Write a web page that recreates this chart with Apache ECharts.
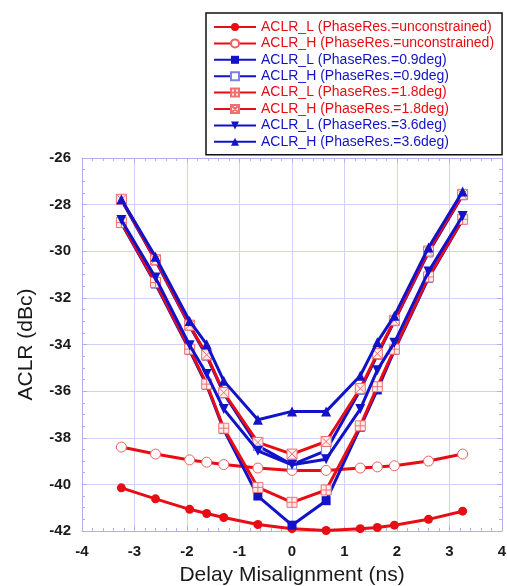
<!DOCTYPE html>
<html><head><meta charset="utf-8">
<script src="https://cdn.jsdelivr.net/npm/echarts@6/dist/echarts.min.js"></script>
<style>html,body{margin:0;padding:0;background:#fff}#c{width:507px;height:586px}</style>
</head><body><div id="c"></div>
<script>
var delays = [-3.25,-2.6,-1.95,-1.625,-1.3,-0.65,0,0.65,1.3,1.625,1.95,2.6,3.25];
var aclrLUnc = [-40.15,-40.62,-41.07,-41.25,-41.42,-41.72,-41.9,-41.98,-41.9,-41.85,-41.75,-41.5,-41.15];
var aclrHUnc = [-38.4,-38.7,-38.95,-39.05,-39.15,-39.3,-39.4,-39.4,-39.3,-39.25,-39.2,-39.0,-38.7];
var aclrL09 = [-28.8,-31.4,-34.25,-35.75,-37.65,-40.5,-41.75,-40.7,-37.55,-35.95,-34.25,-31.15,-28.65];
var aclrH09 = [-27.8,-30.4,-33.2,-34.5,-36.1,-38.35,-39.15,-38.55,-35.95,-34.45,-33.0,-30.05,-27.6];
var aclrL18 = [-28.77,-31.34,-34.2,-35.7,-37.59,-40.13,-40.77,-40.24,-37.49,-35.81,-34.2,-31.1,-28.63];
var aclrH18 = [-27.77,-30.36,-33.17,-34.44,-36.06,-38.2,-38.7,-38.16,-35.89,-34.39,-32.96,-29.99,-27.56];
var aclrL36 = [-28.66,-31.13,-34.03,-35.27,-36.77,-38.56,-39.16,-38.92,-36.77,-35.1,-33.92,-30.87,-28.49];
var aclrH36 = [-27.77,-30.24,-32.99,-33.99,-35.56,-37.23,-36.87,-36.87,-35.34,-33.9,-32.77,-29.84,-27.44];
var seriesNames = [
  'ACLR_L (PhaseRes.=unconstrained)','ACLR_H (PhaseRes.=unconstrained)',
  'ACLR_L (PhaseRes.=0.9deg)','ACLR_H (PhaseRes.=0.9deg)',
  'ACLR_L (PhaseRes.=1.8deg)','ACLR_H (PhaseRes.=1.8deg)',
  'ACLR_L (PhaseRes.=3.6deg)','ACLR_H (PhaseRes.=3.6deg)'];
var xTicks = [-4,-3,-2,-1,0,1,2,3,4];
var yTicks = [-42,-40,-38,-36,-34,-32,-30,-28,-26];

var RED = '#e80c14', BLUE = '#1212c8', GRID = '#d2d2f6', AX = '#b0b0ec';
var FONT = 'Liberation Sans, Arial, sans-serif';
function pts(v){ return delays.map(function(d,i){ return [d, v[i]]; }); }
var boxPlus = 'path://M0,0H10V10H0Z M5,0V10 M0,5H10';
var boxX = 'path://M0,0H10V10H0Z M0,0L10,10 M10,0L0,10';
var styles = [
  {v:aclrLUnc, c:RED, sym:'circle', size:9, fill:RED},
  {v:aclrHUnc, c:RED, sym:'circle', size:10, fill:'#fff', bw:1, bc:'#f06060'},
  {v:aclrL09, c:BLUE, sym:'rect', size:9, fill:BLUE},
  {v:aclrH09, c:BLUE, sym:'rect', size:9, fill:'#fff', bw:1, bc:'#8080e0'},
  {v:aclrL18, c:RED, sym:boxPlus, size:10, fill:'#fdecec', bw:1, bc:'#f07070'},
  {v:aclrH18, c:RED, sym:boxX, size:10, fill:'#fdecec', bw:1, bc:'#f07070'},
  {v:aclrL36, c:BLUE, sym:'triangle', size:10, fill:BLUE, rot:180},
  {v:aclrH36, c:BLUE, sym:'triangle', size:10, fill:BLUE}
];
var series = styles.map(function(s,i){
  return {
    name: seriesNames[i], type:'line', data: pts(s.v),
    symbol: s.sym, symbolSize: s.size, symbolRotate: s.rot || 0,
    showAllSymbol: true,
    lineStyle: {color: s.c, width: 3},
    itemStyle: {color: s.fill, borderColor: s.bc || s.fill, borderWidth: s.bw || 0},
    emphasis: {disabled: true}, animation: false, z: 2 + i
  };
});
function xAxis(pos){
  return {
    type:'value', position: pos, min:-4, max:4, interval:1,
    axisLine:{show:true, onZero:false, lineStyle:{color:AX, width:1}},
    axisTick:{show:true, inside:true, length:5, lineStyle:{color:AX}},
    minorTick:{show:true, splitNumber:5, length:3, lineStyle:{color:AX}},
    splitLine:{show: pos==='bottom', lineStyle:{color:GRID, width:1}},
    axisLabel:{show: pos==='bottom', margin:13, fontSize:15, fontWeight:'bold', color:'#1a1a1a', fontFamily:FONT,
      formatter:function(v){ return xTicks.indexOf(v) >= 0 ? String(v) : ''; }},
    name: pos==='bottom' ? 'Delay Misalignment (ns)' : '',
    nameLocation:'middle', nameGap:34,
    nameTextStyle:{fontSize:21, color:'#1a1a1a', fontFamily:FONT}
  };
}
function yAxis(pos){
  return {
    type:'value', position: pos, min:-42, max:-26, interval:2,
    axisLine:{show:true, onZero:false, lineStyle:{color:AX, width:1}},
    axisTick:{show:true, inside:true, length:5, lineStyle:{color:AX}},
    minorTick:{show:true, splitNumber:4, length:3, lineStyle:{color:AX}},
    splitLine:{show: pos==='left', lineStyle:{color:GRID, width:1}},
    axisLabel:{show: pos==='left', margin:11, fontSize:15, fontWeight:'bold', color:'#1a1a1a', fontFamily:FONT,
      formatter:function(v){ return yTicks.indexOf(v) >= 0 ? String(v) : ''; }},
    name: pos==='left' ? 'ACLR (dBc)' : '',
    nameLocation:'middle', nameGap:45, nameRotate:90,
    nameTextStyle:{fontSize:21, color:'#1a1a1a', fontFamily:FONT}
  };
}
var legendData = seriesNames.map(function(n,i){
  return {name:n, textStyle:{color: styles[i].c}};
});
var chart = echarts.init(document.getElementById('c'), null, {renderer:'canvas'});
chart.setOption({
  animation:false,
  backgroundColor:'#fff',
  grid:{left:82, right:5, top:158, bottom:55, containLabel:false, outerBoundsMode:'none'},
  xAxis:[xAxis('bottom'), xAxis('top')],
  yAxis:[yAxis('left'), yAxis('right')],
  legend:{
    data: legendData, orient:'vertical', left:206, top:13,
    padding:[6,8,5,7], itemWidth:42, itemHeight:10, itemGap:0.4,
    borderColor:'#111', borderWidth:1.5, backgroundColor:'#fff',
    textStyle:{fontSize:14, lineHeight:16, fontFamily:FONT},
    selectedMode:false, z:10
  },
  series: series
});
</script></body></html>
